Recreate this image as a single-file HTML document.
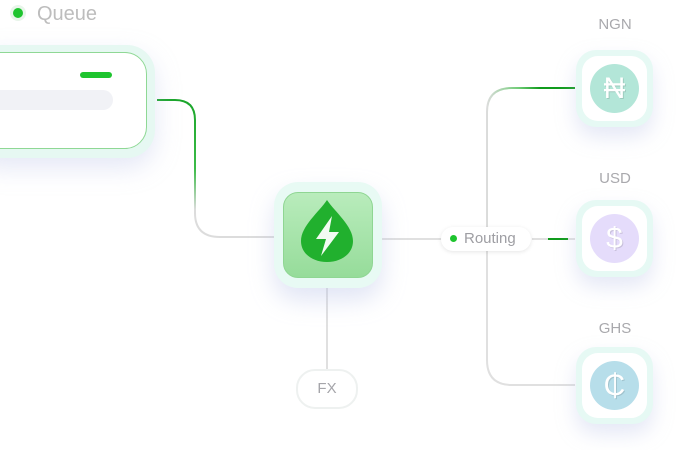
<!DOCTYPE html>
<html><head><style>
body{margin:0;width:682px;height:450px;background:#fff;overflow:hidden;position:relative;font-family:"Liberation Sans",sans-serif}
.abs{position:absolute}
.lbl{color:#a9a9ad;font-size:15px;text-align:center;width:60px}
.node{position:absolute;width:77px;height:77px;border-radius:20px;background:#e6f9f4;box-shadow:0 10px 20px rgba(180,190,230,.35)}
.node .in{position:absolute;left:6px;top:6px;width:65px;height:65px;border-radius:16px;background:#fff}
.node .c{position:absolute;left:14px;top:14px;width:49px;height:49px;border-radius:50%;color:#fff;font-size:30px;text-align:center;line-height:49px;text-shadow:1px 1px 0 rgba(0,0,0,.12)}
</style></head><body>
<svg class="abs" style="left:0;top:0" width="682" height="450">
<defs>
<linearGradient id="g1" x1="0" y1="100" x2="0" y2="237" gradientUnits="userSpaceOnUse">
<stop offset="0" stop-color="#1aa52a"/><stop offset=".5" stop-color="#3cbb48"/><stop offset=".8" stop-color="#dcdcdc"/><stop offset="1" stop-color="#dcdcdc"/></linearGradient>
<linearGradient id="g2" x1="487" y1="0" x2="540" y2="0" gradientUnits="userSpaceOnUse">
<stop offset="0" stop-color="#dcdcdc"/><stop offset=".6" stop-color="#6fcc76"/><stop offset="1" stop-color="#109b1c"/></linearGradient>
</defs>
<path d="M157 100 H175 Q195 100 195 120 V213 Q195 237 220 237 H275" fill="none" stroke="url(#g1)" stroke-width="2"/>
<path d="M382 239 H442" stroke="#e0e0e0" stroke-width="2"/>
<path d="M532 239 H575" stroke="#e0e0e0" stroke-width="2"/>
<path d="M548 239 H568" stroke="#109b1c" stroke-width="2"/>
<path d="M487 228 V112 Q487 88 512 88 H575" fill="none" stroke="url(#g2)" stroke-width="2"/>
<path d="M487 251 V360 Q487 385 512 385 H575" fill="none" stroke="#e0e0e0" stroke-width="2"/>
<path d="M327 288 V370" stroke="#e0e0e0" stroke-width="2"/>
</svg>
<div class="abs" style="left:10px;top:5px;width:16px;height:16px;border-radius:50%;background:#e8f5ea"></div>
<div class="abs" style="left:13px;top:8px;width:10px;height:10px;border-radius:50%;background:#1ec42e"></div>
<div class="abs" style="left:37px;top:3px;font-size:20px;color:#bdbdbd">Queue</div>
<div class="abs" style="left:-30px;top:45px;width:185px;height:113px;border-radius:28px;background:#e6f8f2;box-shadow:0 10px 25px rgba(180,190,230,.35)"></div>
<div class="abs" style="left:-30px;top:52px;width:175px;height:95px;border-radius:22px;background:#fff;border:1px solid #8fd895"></div>
<div class="abs" style="left:80px;top:72px;width:32px;height:6px;border-radius:3px;background:#1ec42e"></div>
<div class="abs" style="left:-10px;top:90px;width:123px;height:20px;border-radius:10px;background:#f1f2f6"></div>
<div class="abs" style="left:274px;top:182px;width:108px;height:106px;border-radius:24px;background:#e8faf4;box-shadow:0 12px 24px rgba(180,190,230,.4)"></div>
<div class="abs" style="left:283px;top:192px;width:88px;height:84px;border-radius:15px;background:linear-gradient(#b9ecbc,#96dc9a);border:1px solid #8fd693"></div>
<svg class="abs" style="left:300px;top:199px" width="56" height="66"><path d="M27 1 C35 13 53 27 53 42 C53 55 41 63 27 63 C13 63 1 55 1 42 C1 27 19 13 27 1Z" fill="#21b02e"/><path d="M32 17 L16 40 H26 L21 57 L39 33 H29 Z" fill="#f2fbf2"/></svg>
<div class="abs" style="left:441px;top:227px;width:90px;height:24px;border-radius:12px;background:#fff;box-shadow:0 1px 4px rgba(0,0,0,.1)"></div>
<div class="abs" style="left:450px;top:235px;width:7px;height:7px;border-radius:50%;background:#1ec42e"></div>
<div class="abs" style="left:464px;top:230px;font-size:15px;color:#9e9ea3">Routing</div>
<div class="abs" style="left:296px;top:369px;width:58px;height:36px;border-radius:19px;border:2px solid #eef1f0;background:#fff;text-align:center;line-height:36px;font-size:15px;color:#a5a5aa">FX</div>
<div class="abs lbl" style="left:585px;top:16px">NGN</div>
<div class="abs lbl" style="left:585px;top:170px">USD</div>
<div class="abs lbl" style="left:585px;top:320px">GHS</div>
<div class="node" style="left:576px;top:50px"><div class="in"></div><div class="c" style="background:#b3e6d8">₦</div></div>
<div class="node" style="left:576px;top:200px"><div class="in"></div><div class="c" style="background:#e5dcfb">$</div></div>
<div class="node" style="left:576px;top:347px"><div class="in"></div><div class="c" style="background:#b7deea">₵</div></div>
</body></html>
